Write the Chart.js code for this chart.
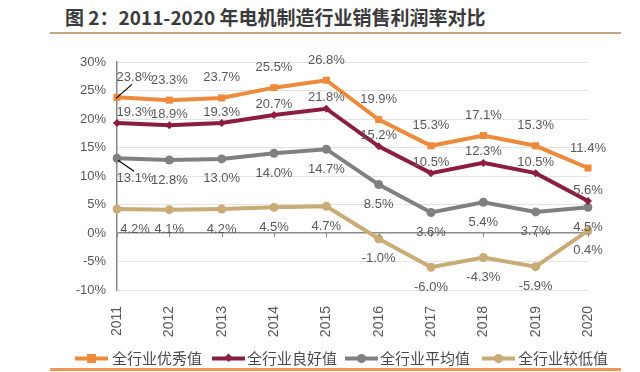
<!DOCTYPE html>
<html>
<head>
<meta charset="utf-8">
<script src="https://cdn.jsdelivr.net/npm/chart.js@4"></script>
<style>
  body { margin: 0; background: #fff; }
  #wrap { position: relative; width: 640px; height: 372px; overflow: hidden; }
  #chart { position: absolute; left: 0; top: 0; }
  .title { position: absolute; left: 65px; top: 5px; font: bold 19px "Noto Sans CJK SC", sans-serif; color: #3a3a3a; line-height: 23px; white-space: nowrap; }
  .rule { position: absolute; left: 50px; width: 571px; }
  .legend { position: absolute; top: 348px; left: 0; height: 20px; font: 15px "Noto Sans CJK SC", sans-serif; color: #4a4a4a; }
  .legend span { position: absolute; top: 0; line-height: 20px; white-space: nowrap; }
  .legend svg { position: absolute; top: 0; }
</style>
</head>
<body>
<div id="wrap">
  <div class="title">图 2：2011-2020 年电机制造行业销售利润率对比</div>
  <div class="rule" style="top:32px;height:2px;background:#c9a27e"></div>
  <canvas id="chart" width="640" height="372"></canvas>
  <div class="legend" id="legend"></div>
  <div class="rule" style="top:368px;height:3px;background:#ee9a55"></div>
</div>
<script>
// data
const years = ['2011', '2012', '2013', '2014', '2015', '2016', '2017', '2018', '2019', '2020'];
const seriesNames = ['全行业优秀值', '全行业良好值', '全行业平均值', '全行业较低值'];
const excellent = [23.8, 23.3, 23.7, 25.5, 26.8, 19.9, 15.3, 17.1, 15.3, 11.4];
const good = [19.3, 18.9, 19.3, 20.7, 21.8, 15.2, 10.5, 12.3, 10.5, 5.6];
const average = [13.1, 12.8, 13.0, 14.0, 14.7, 8.5, 3.6, 5.4, 3.7, 4.5];
const low = [4.2, 4.1, 4.2, 4.5, 4.7, -1.0, -6.0, -4.3, -5.9, 0.4];
const yTicks = [-10, -5, 0, 5, 10, 15, 20, 25, 30];

const colors = ['#ee8a3c', '#8c1d40', '#808080', '#c9ab75'];
const markers = ['rect', 'rectRot', 'circle', 'circle'];
const markerSize = [5, 4, 4.5, 4.5];
const labelDy = [-20, -11, 20, 20];

Chart.defaults.font.family = '"Liberation Sans", Arial, sans-serif';

// value labels + leader lines + ticks on the zero line
const labelPlugin = {
  id: 'labels',
  afterDatasetsDraw(chart) {
    const c = chart.ctx;
    const x = chart.scales.x, y = chart.scales.y;
    const y0 = y.getPixelForValue(0);
    c.save();
    c.strokeStyle = '#888';
    c.lineWidth = 1;
    years.forEach((_, i) => {
      const px = Math.round(x.getPixelForValue(i)) + 0.5;
      c.beginPath(); c.moveTo(px, y0); c.lineTo(px, y0 + 4); c.stroke();
    });
    c.font = '13px "Liberation Sans", Arial, sans-serif';
    c.fillStyle = '#595959';
    c.textAlign = 'center';
    c.textBaseline = 'middle';
    chart.data.datasets.forEach((ds, di) => {
      const meta = chart.getDatasetMeta(di);
      meta.data.forEach((pt, i) => {
        let lx = pt.x, ly = pt.y + labelDy[di];
        if (i === 0) lx += 18;
        c.fillText(ds.data[i].toFixed(1) + '%', lx, ly);
      });
    });
    // leader lines at 2011
    c.strokeStyle = '#000';
    c.lineWidth = 1.2;
    const p0 = chart.getDatasetMeta(0).data[0];
    c.beginPath(); c.moveTo(p0.x - 1, p0.y + 1); c.lineTo(p0.x + 15, p0.y - 13); c.stroke();
    const p2 = chart.getDatasetMeta(2).data[0];
    c.beginPath(); c.moveTo(p2.x + 1, p2.y + 2); c.lineTo(p2.x + 17, p2.y + 13); c.stroke();
    c.restore();
  }
};

const allSeries = [excellent, good, average, low];

new Chart(document.getElementById('chart'), {
  type: 'line',
  data: {
    labels: years,
    datasets: allSeries.map((d, i) => ({
      label: seriesNames[i],
      data: d,
      borderColor: colors[i],
      backgroundColor: colors[i],
      borderWidth: 4,
      pointStyle: markers[i],
      pointRadius: markerSize[i],
      pointBorderWidth: 0,
      tension: 0
    }))
  },
  options: {
    responsive: false,
    animation: false,
    layout: { padding: { top: 62, left: 0, right: 52, bottom: 32 } },
    plugins: { legend: { display: false }, tooltip: { enabled: false } },
    scales: {
      x: {
        offset: false,
        grid: { display: false },
        border: { display: false },
        afterFit: s => { s.height = 50; },
        ticks: { color: '#595959', font: { size: 14 }, minRotation: 90, maxRotation: 90, padding: 8 }
      },
      y: {
        min: -10, max: 30,
        afterFit: s => { s.width = 117; },
        afterBuildTicks: s => { s.ticks = yTicks.map(v => ({ value: v })); },
        border: { display: true, color: '#888', width: 1.5 },
        grid: {
          drawTicks: false,
          color: c => c.tick && c.tick.value === 0 ? '#8c8c8c' : '#e3e3e3',
          lineWidth: c => c.tick && c.tick.value === 0 ? 1.5 : 1
        },
        ticks: { color: '#595959', font: { size: 13 }, padding: 11, callback: v => v + '%' }
      }
    }
  },
  plugins: [labelPlugin]
});

// legend
const legendPos = [[75, 112], [212, 247], [345, 380], [482, 518]];
const legend = document.getElementById('legend');
seriesNames.forEach((name, i) => {
  const [lx, tx] = legendPos[i];
  let mark;
  if (markers[i] === 'rect') mark = `<rect x="12" y="6" width="9" height="9" fill="${colors[i]}"/>`;
  else if (markers[i] === 'rectRot') mark = `<rect x="13" y="7" width="6" height="6" fill="${colors[i]}" transform="rotate(45 16.5 10.5)"/>`;
  else mark = `<circle cx="16.5" cy="10.5" r="4.5" fill="${colors[i]}"/>`;
  legend.insertAdjacentHTML('beforeend',
    `<svg style="left:${lx}px" width="33" height="20"><line x1="0" y1="10.5" x2="33" y2="10.5" stroke="${colors[i]}" stroke-width="4"/>${mark}</svg>` +
    `<span style="left:${tx}px">${name}</span>`);
});
</script>
</body>
</html>
